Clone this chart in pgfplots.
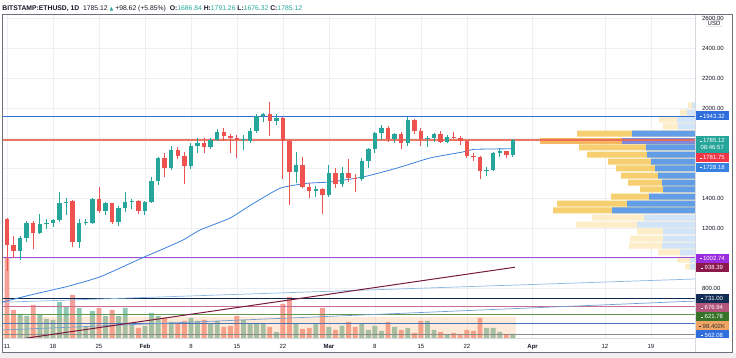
\documentclass[border=0pt]{standalone}
\usepackage{pgfplots}
\pgfplotsset{compat=1.18}
\usepackage{pgfplotstable}
\usepackage{fontspec}
\setmainfont{Liberation Sans}
\newfontfamily\djv{DejaVu Sans}

\definecolor{tvtext}{RGB}{19,23,34}
\definecolor{tvgreen}{RGB}{38,166,154}
\definecolor{tvred}{RGB}{239,83,80}
\definecolor{vgreen}{RGB}{140,200,180}
\definecolor{vred}{RGB}{244,160,150}
\definecolor{gridc}{RGB}{236,239,244}
\definecolor{l1943}{RGB}{52,110,215}
\definecolor{lpoc}{RGB}{236,105,85}
\definecolor{lpurple}{RGB}{165,75,215}
\definecolor{lmaroon}{RGB}{120,28,62}
\definecolor{lnavy}{RGB}{15,40,80}
\definecolor{lpink}{RGB}{200,110,150}
\definecolor{lgreen}{RGB}{100,150,80}
\definecolor{l562}{RGB}{75,115,185}
\definecolor{lgray}{RGB}{140,140,140}
\definecolor{ltblue}{RGB}{140,185,225}
\definecolor{ltblueb}{RGB}{115,160,210}
\definecolor{ma}{RGB}{60,130,220}
\definecolor{peach}{RGB}{255,160,90}
\definecolor{vpy}{RGB}{246,208,112}
\definecolor{vpb}{RGB}{98,158,232}
\definecolor{vpyp}{RGB}{253,237,200}
\definecolor{vpbp}{RGB}{210,228,248}
\definecolor{vpyc}{RGB}{245,182,98}
\definecolor{vpbc}{RGB}{128,138,215}
\definecolor{bblue}{RGB}{47,110,220}
\definecolor{bred}{RGB}{242,54,69}
\definecolor{bma}{RGB}{55,130,225}
\definecolor{bpurple}{RGB}{155,45,225}
\definecolor{bmaroon}{RGB}{140,25,75}
\definecolor{bnavy}{RGB}{20,45,85}
\definecolor{bpink}{RGB}{180,85,125}
\definecolor{bgreen}{RGB}{55,115,40}
\definecolor{borange}{RGB}{240,165,100}
\definecolor{framec}{RGB}{110,113,124}
\definecolor{sepc}{RGB}{214,217,224}

% daily candles, d = days after 11 Jan 2021
\pgfplotstableread{
d o h l c
2 1047 1147 990 1131
3 1131 1250 1110 1231
5 1169 1293 1160 1224
6 1224 1262 1195 1231
7 1231 1262 1205 1253
8 1253 1442 1242 1364
9 1364 1398 1287 1371
11 1109 1260 1070 1231
12 1231 1260 1220 1236
13 1236 1400 1230 1393
15 1316 1375 1290 1364
17 1238 1345 1215 1331
18 1331 1440 1310 1376
19 1376 1395 1330 1382
21 1313 1380 1290 1373
22 1373 1540 1365 1511
23 1511 1675 1490 1664
25 1598 1745 1590 1720
28 1613 1770 1595 1749
29 1749 1800 1700 1769
31 1742 1800 1730 1787
32 1787 1860 1780 1842
36 1787 1820 1720 1792
37 1782 1865 1770 1849
38 1849 1960 1835 1947
39 1947 1965 1905 1958
41 1916 1960 1890 1936
44 1576 1709 1498 1620
47 1447 1480 1410 1458
49 1420 1620 1410 1569
51 1491 1605 1475 1564
54 1527 1670 1515 1649
55 1649 1735 1600 1727
56 1727 1840 1700 1836
57 1836 1885 1790 1869
59 1791 1835 1770 1824
61 1764 1940 1745 1920
64 1791 1815 1740 1798
65 1798 1835 1775 1824
67 1776 1820 1765 1809
73 1580 1605 1545 1587
74 1587 1710 1580 1698
75 1698 1735 1675 1713
77 1687 1791.26 1676.32 1785.12
}\candup
\pgfplotstableread{
d o h l c
-1 1280 1350 1170 1262
0 1262 1265 915 1088
1 1088 1147 1000 1047
4 1231 1250 1058 1169
10 1380 1385 1076 1109
14 1393 1476 1300 1316
16 1364 1370 1230 1238
20 1382 1388 1296 1313
24 1664 1700 1540 1598
26 1720 1740 1660 1680
27 1680 1705 1491 1613
30 1769 1800 1700 1742
33 1842 1865 1780 1816
34 1816 1825 1700 1802
35 1802 1820 1664 1787
40 1958 2040 1815 1916
42 1936 1940 1530 1782
43 1782 1795 1353 1576
45 1620 1676 1465 1476
46 1476 1500 1398 1447
48 1458 1470 1293 1420
50 1569 1600 1465 1491
52 1564 1658 1505 1536
53 1536 1560 1442 1527
58 1869 1880 1775 1791
60 1824 1840 1730 1764
62 1920 1930 1830 1849
63 1849 1865 1745 1791
66 1824 1845 1765 1776
68 1809 1840 1795 1802
69 1802 1815 1755 1782
70 1782 1785 1665 1682
71 1682 1700 1650 1671
72 1671 1680 1524 1580
76 1713 1715 1665 1687
}\canddown

% volume (relative units)
\pgfplotstableread{
d v
2 24
3 22
5 23
6 19
7 18
8 36
9 31
11 30
12 11
13 27
15 22
17 22
18 30
19 15
21 12
22 25
23 22
25 16
28 20
29 17
31 14
32 17
36 18
37 14
38 15
39 14
41 6
44 14
47 14
49 11
51 12
54 14
55 8
56 12
57 7
59 11
61 10
64 17
65 8
67 3
73 10
74 10
75 6
77 4
}\volup
\pgfplotstableread{
d v
-1 30
0 80
1 28
4 33
10 43
14 30
16 28
20 10
24 20
26 15
27 17
30 18
33 11
34 12
35 22
40 11
42 34
43 41
45 9
46 10
48 30
50 8
52 16
53 11
58 16
60 8
62 5
63 17
66 6
68 5
69 4
70 8
71 7
72 20
76 4
}\voldown

% visible range volume profile: row price, total length, up-volume length
\pgfplotstableread{
p y b
1830.0 118 63
1736.7 116 49
1690.0 108 48
1643.3 87 44
1596.7 79 40
1550.0 74 37
1503.3 67 33
1456.7 55 32
1410.0 84 46
1363.3 138 68
1316.7 142 83
}\vpsat
\pgfplotstableread{
p y b
1783.3 155 73
}\vppoc
\pgfplotstableread{
p y b
2016.7 7 3
1970.0 15 8
1923.3 36 18
1876.7 32 17
1270.0 103 51
1223.3 119 58
1176.7 58 32
1130.0 65 32
1083.3 66 33
1036.7 37 15
990.0 18 5
943.3 10 5
}\vppale

\begin{document}
\begin{tikzpicture}[x=1pt,y=1pt]
\path[use as bounding box] (-2.7,-20) rectangle (733.3,338);
\fill[white] (-2.7,-20) rectangle (733.3,338);
\fill[gray!12] (-2.7,-20) rectangle (733.3,-15);

% grid and price / date scale
\begin{axis}[at={(0,0)}, anchor=south west, scale only axis,
  width=692.3pt, height=324pt,
  xmin=-0.65, xmax=104.72, ymin=466.7, ymax=2626.7,
  axis line style={draw=none},
  xtick={0,7,14,21,28,35,42,49,56,63,70,80,91,98},
  xticklabels={11,18,25,\textbf{Feb},8,15,22,\textbf{Mar},8,15,22,\textbf{Apr},12,19},
  ytick={800,1000,1200,1400,1600,1800,2000,2200,2400,2600},
  yticklabels={800.00,,1200.00,1400.00,,,2000.00,2200.00,2400.00,2600.00},
  yticklabel pos=right,
  major tick length=0pt,
  grid=major, major grid style={gridc, line width=0.5pt},
  tick label style={font=\fontsize{6}{7}\selectfont, text=tvtext},
  yticklabel style={anchor=west, xshift=3.5pt},
  xticklabel style={anchor=base, yshift=-11pt},
]
\addplot[draw=none] coordinates {(0,1000)};
\end{axis}

% volume
\begin{axis}[at={(0,0)}, anchor=south west, scale only axis,
  width=692.3pt, height=324pt,
  xmin=-0.65, xmax=104.72, ymin=0, ymax=324, hide axis]
\addplot[ybar, bar width=0.74, bar shift=0pt, draw=none, fill=vgreen] table[x=d,y=v] {\volup};
\addplot[ybar, bar width=0.74, bar shift=0pt, draw=none, fill=vred] table[x=d,y=v] {\voldown};
\addplot[draw=none, fill=peach, fill opacity=0.22] coordinates {(-1,21.3) (77.5,21.3)} \closedcycle;
\end{axis}

% volume profile, measured from the right edge
\begin{axis}[at={(0,0)}, anchor=south west, scale only axis,
  width=692.3pt, height=324pt,
  xmin=0, xmax=692.3, x dir=reverse, ymin=466.7, ymax=2626.7, hide axis]
\addplot[xbar, bar width=40, bar shift=0pt, draw=none, fill=vpyp] table[x=y,y=p] {\vppale};
\addplot[xbar, bar width=40, bar shift=0pt, draw=none, fill=vpbp] table[x=b,y=p] {\vppale};
\addplot[xbar, bar width=40, bar shift=0pt, draw=none, fill=vpy] table[x=y,y=p] {\vpsat};
\addplot[xbar, bar width=40, bar shift=0pt, draw=none, fill=vpb] table[x=b,y=p] {\vpsat};
\addplot[xbar, bar width=40, bar shift=0pt, draw=none, fill=vpyc] table[x=y,y=p] {\vppoc};
\addplot[xbar, bar width=40, bar shift=0pt, draw=none, fill=vpbc] table[x=b,y=p] {\vppoc};
\end{axis}

% price: levels, trend lines, moving average, candles
\begin{axis}[at={(0,0)}, anchor=south west, scale only axis,
  width=692.3pt, height=324pt,
  xmin=-0.65, xmax=104.72, ymin=466.7, ymax=2626.7, hide axis,
  candle/.style={only marks, mark=*, mark size=0pt, mark options={draw=none, fill=none}}]
\addplot[lgray, line width=0.9pt] coordinates {(-1,493) (105,493)};
\addplot[l562, line width=1.2pt] coordinates {(-1,562.08) (105,562.08)};
\addplot[lgreen, line width=1.0pt] coordinates {(-1,621.78) (105,621.78)};
\addplot[lpink, line width=0.7pt] coordinates {(-1,676.94) (105,676.94)};
\addplot[lnavy, line width=0.9pt] coordinates {(-1,731) (105,731)};
\addplot[ltblueb, line width=0.7pt] coordinates {(-0.65,520) (104.72,713)};
\addplot[ltblue, line width=0.7pt] coordinates {(-0.65,705) (104.72,860)};
\addplot[lmaroon, line width=1.0pt] coordinates {(0,447) (77.3,938.39)};
\addplot[lpurple, line width=1.3pt] coordinates {(-1,1002.74) (105,1002.74)};
\addplot[l1943, line width=0.9pt] coordinates {(-1,1943.32) (105,1943.32)};
\addplot[lpoc, line width=1.6pt, opacity=0.9] coordinates {(-1,1785) (105,1785)};
\addplot[ma, line width=0.8pt, smooth, tension=0.3] coordinates {
(-0.65,707) (4,758) (9.08,809) (14.2,875) (20.75,1004) (24,1065) (26.8,1120)
(29.4,1187) (33.9,1265) (37,1350) (41.55,1465) (45.66,1498) (49.2,1507)
(54.2,1540) (59.4,1600) (64.4,1667) (69.4,1707) (71,1724) (74,1727) (77,1728.18)};
% wicks
\addplot[candle, error bars/.cd, y dir=plus, y explicit, error mark=none,
  error bar style={line width=0.9pt, draw=tvgreen}]
  table[x=d, y=l, y error plus expr={\thisrow{h}-\thisrow{l}}] {\candup};
\addplot[candle, error bars/.cd, y dir=plus, y explicit, error mark=none,
  error bar style={line width=0.9pt, draw=tvred}]
  table[x=d, y=l, y error plus expr={\thisrow{h}-\thisrow{l}}] {\canddown};
% bodies
\addplot[candle, error bars/.cd, y dir=plus, y explicit, error mark=none,
  error bar style={line width=4.4pt, draw=tvgreen}]
  table[x=d, y=o, y error plus expr={max(\thisrow{c}-\thisrow{o},6)}] {\candup};
\addplot[candle, error bars/.cd, y dir=plus, y explicit, error mark=none,
  error bar style={line width=4.4pt, draw=tvred}]
  table[x=d, y=c, y error plus expr={max(\thisrow{o}-\thisrow{c},6)}] {\canddown};
\end{axis}

% frame
\draw[sepc, line width=0.6pt] (0,0) -- (692.3,0);
\draw[sepc, line width=0.6pt] (692.3,-14.5) -- (692.3,324);
\draw[framec, line width=0.6pt] (0,-14.5) rectangle (729.8,324);

% USD box
\node[fill=white, draw=gray!30, rounded corners=1pt, inner sep=1pt, minimum width=17pt,
  font=\fontsize{6}{7}\selectfont, text=tvtext] at (711.3,314.5) {USD};

% price boxes on the scale
\tikzset{pbox/.style={anchor=west, minimum width=33pt, minimum height=9pt, inner sep=0pt,
  text=white, font=\fontsize{6}{7}\selectfont}}
\newcommand{\dsh}{\rule[1.7pt]{2pt}{0.45pt}\hspace{1.3pt}}
\begin{scope}
\clip (692.3,0) rectangle (733,324);
\node[pbox, fill=bblue] at (692.8,222) {\dsh 1943.32};
\node[pbox, fill=tvgreen, minimum height=17pt, align=center] at (692.8,193.8) {\dsh 1785.12\\08:46:57};
\node[pbox, fill=bred] at (692.8,180.2) {\dsh 1781.75};
\node[pbox, fill=bma] at (692.8,170.6) {\dsh 1728.18};
\node[pbox, fill=bpurple] at (692.8,79.7) {\dsh 1002.74};
\node[pbox, fill=bmaroon] at (692.8,70.3) {\dsh 938.39};
\node[pbox, fill=bnavy] at (692.8,39.7) {\dsh 731.00};
\node[pbox, fill=bpink] at (692.8,30.3) {\dsh 676.94};
\node[pbox, fill=bgreen] at (692.8,21.3) {\dsh 621.78};
\node[pbox, fill=borange, text=black!80] at (692.8,12) {\dsh 98.402K};
\node[pbox, fill=bblue] at (692.8,3) {\dsh 562.08};
\end{scope}

% title
\node[anchor=base west, inner sep=0pt, font=\fontsize{6.8}{7}\selectfont, text=tvtext] at (-0.5,327.4)
{\textbf{BITSTAMP:ETHUSD, 1D}\ \ 1785.12 {\color{tvgreen}\djv\fontsize{5}{6}\selectfont ▲} +98.62 (+5.85\%)\ \
\textbf{O:}{\color{tvgreen}1686.84}\ \textbf{H:}{\color{tvgreen}1791.26}\ \textbf{L:}{\color{tvgreen}1676.32}\ \textbf{C:}{\color{tvgreen}1785.12}};
\end{tikzpicture}
\end{document}
